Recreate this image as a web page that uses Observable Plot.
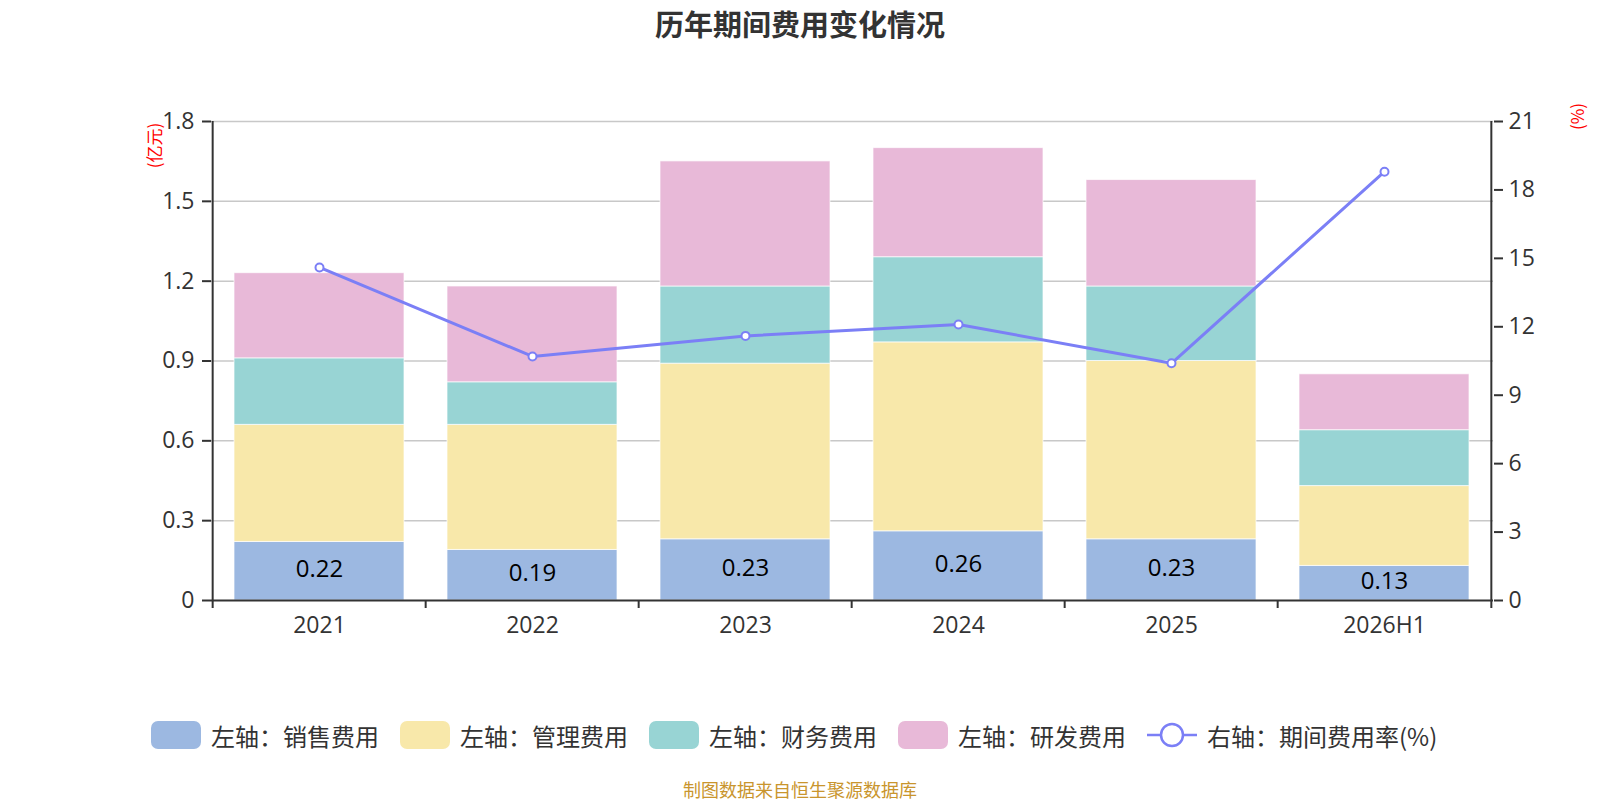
<!DOCTYPE html>
<html>
<head>
<meta charset="utf-8">
<script src="https://cdn.jsdelivr.net/npm/d3@7"></script>
<script src="https://cdn.jsdelivr.net/npm/@observablehq/plot@0.6"></script>
<style>
  html, body { margin: 0; padding: 0; background: #fff; }
  body { width: 1600px; height: 800px; position: relative; overflow: hidden;
         font-family: "Open Sans", "Noto Sans CJK SC", sans-serif; }
  #title { height: 48px; line-height: 46px; text-align: center; font-size: 29px; font-weight: bold; color: #333;
           font-family: "Noto Sans CJK SC", sans-serif; }
  #chart svg { display: block; }
  #legend { position: absolute; left: 151px; top: 721px; display: flex; align-items: center; height: 28px;
            font-family: "Noto Sans CJK SC", sans-serif; font-size: 24px; color: #333; }
  .item { display: flex; align-items: center; margin-right: 21px; }
  .sw { width: 50px; height: 28px; border-radius: 7px; margin-right: 10px; }
  .lsw { width: 50px; height: 28px; margin-right: 10px; display: block; }
  #footer { position: absolute; left: 0; width: 1600px; top: 779px; height: 20px; line-height: 20px; text-align: center; font-size: 18px;
            color: #c9952d; font-family: "Noto Sans CJK SC", sans-serif; }
</style>
</head>
<body>
<div id="title">历年期间费用变化情况</div>
<div id="chart"></div>
<div id="legend"></div>
<div id="footer">制图数据来自恒生聚源数据库</div>
<script>
const years = ["2021", "2022", "2023", "2024", "2025", "2026H1"];
const sales = [0.22, 0.19, 0.23, 0.26, 0.23, 0.13];
const admin = [0.44, 0.47, 0.66, 0.71, 0.67, 0.30];
const finance = [0.25, 0.16, 0.29, 0.32, 0.28, 0.21];
const rd = [0.32, 0.36, 0.47, 0.41, 0.40, 0.21];
const rate = [14.6, 10.7, 11.6, 12.1, 10.4, 18.8];
const seriesNames = ["左轴：销售费用", "左轴：管理费用", "左轴：财务费用", "左轴：研发费用"];
const lineName = "右轴：期间费用率(%)";
const leftTicks = [0, 0.3, 0.6, 0.9, 1.2, 1.5, 1.8];
const rightTicks = [0, 3, 6, 9, 12, 15, 18, 21];

const colors = ["#9cb8e1", "#f8e8aa", "#98d4d4", "#e8b9d8"];
const lineColor = "#7b7ff6";
const leftMax = 1.8, rightMax = 21;
const toLeft = v => v * leftMax / rightMax;

const seriesValues = [sales, admin, finance, rd];
const long = [];
years.forEach((y, i) => {
  seriesValues.forEach((arr, s) => long.push({year: y, series: seriesNames[s], value: arr[i]}));
});
const pts = years.map((y, i) => ({year: y, sales: sales[i], rate: rate[i]}));

const W = 1600, H = 632, ML = 211, MR = 107, MT = 73, MB = 80;
const step = (W - ML - MR) / years.length;
const font = "'Open Sans', 'Noto Sans CJK SC', sans-serif";

const chart = Plot.plot({
  width: W, height: H,
  marginLeft: ML, marginRight: MR, marginTop: MT, marginBottom: MB,
  style: {fontFamily: font, fontSize: "23px", color: "#333", background: "#fff"},
  x: {domain: years, paddingInner: 0.2, paddingOuter: 0.1, axis: null},
  y: {domain: [0, leftMax], axis: null},
  color: {domain: seriesNames, range: colors},
  marks: [
    Plot.gridY(leftTicks.slice(1), {stroke: "#c8c8c8", strokeOpacity: 1, strokeWidth: 1.5}),
    Plot.barY(long, {x: "year", y: "value", fill: "series", stroke: "#fff", strokeOpacity: 0.7, strokeWidth: 1}),
    Plot.ruleY([0], {stroke: "#333", strokeWidth: 2}),
    Plot.ruleX([years[0]], {dx: -step / 2, stroke: "#333", strokeWidth: 2, insetBottom: -8}),
    Plot.ruleX([years[years.length - 1]], {dx: step / 2, stroke: "#333", strokeWidth: 2, insetBottom: -8}),
    Plot.ruleX(years.slice(1), {x: d => d, y1: 0, y2: 0, dx: -step / 2, stroke: "#333", strokeWidth: 2, insetBottom: -8}),
    Plot.axisX(years, {anchor: "bottom", tickSize: 0, tickPadding: 16, fontSize: 23, fill: "#333", label: null}),
    Plot.axisY(leftTicks, {anchor: "left", tickSize: 9, tickPadding: 8, fontSize: 23, stroke: "#333", strokeWidth: 2, fill: "#333", label: null,
      tickFormat: d => String(d)}),
    Plot.axisY(rightTicks.map(toLeft), {anchor: "right", tickSize: 9, tickPadding: 6, fontSize: 23, stroke: "#333", strokeWidth: 2, fill: "#333", label: null,
      tickFormat: d => String(Math.round(d * rightMax / leftMax))}),
    Plot.text(pts, {x: "year", y: d => d.sales / 2, text: d => d.sales.toFixed(2), fontSize: 24, fill: "#000", dy: -2}),
    Plot.lineY(pts, {x: "year", y: d => toLeft(d.rate), stroke: lineColor, strokeWidth: 3}),
    Plot.dot(pts, {x: "year", y: d => toLeft(d.rate), r: 4, fill: "#fff", stroke: lineColor, strokeWidth: 2}),
    Plot.text(["(亿元)"], {frameAnchor: "top-left", dx: -63, dy: 24, rotate: -90, fill: "red", fontSize: 17, fontFamily: "'Noto Sans CJK SC', sans-serif", textAnchor: "middle"}),
    Plot.text(["(%)"], {frameAnchor: "top-right", dx: 78, dy: -5, rotate: -90, fill: "red", fontSize: 17, fontFamily: "'Noto Sans CJK SC', sans-serif", textAnchor: "middle"})
  ]
});
document.getElementById("chart").appendChild(chart);

const legend = document.getElementById("legend");
seriesNames.forEach((name, i) => {
  const it = document.createElement("div");
  it.className = "item";
  it.innerHTML = `<div class="sw" style="background:${colors[i]}"></div><span>${name}</span>`;
  legend.appendChild(it);
});
const li = document.createElement("div");
li.className = "item";
li.innerHTML = `<svg class="lsw" width="50" height="28"><line x1="0" y1="14" x2="50" y2="14" stroke="${lineColor}" stroke-width="2.5"/><circle cx="25" cy="14" r="11" fill="#fff" stroke="${lineColor}" stroke-width="2.5"/></svg><span>${lineName}</span>`;
legend.appendChild(li);
</script>
</body>
</html>
